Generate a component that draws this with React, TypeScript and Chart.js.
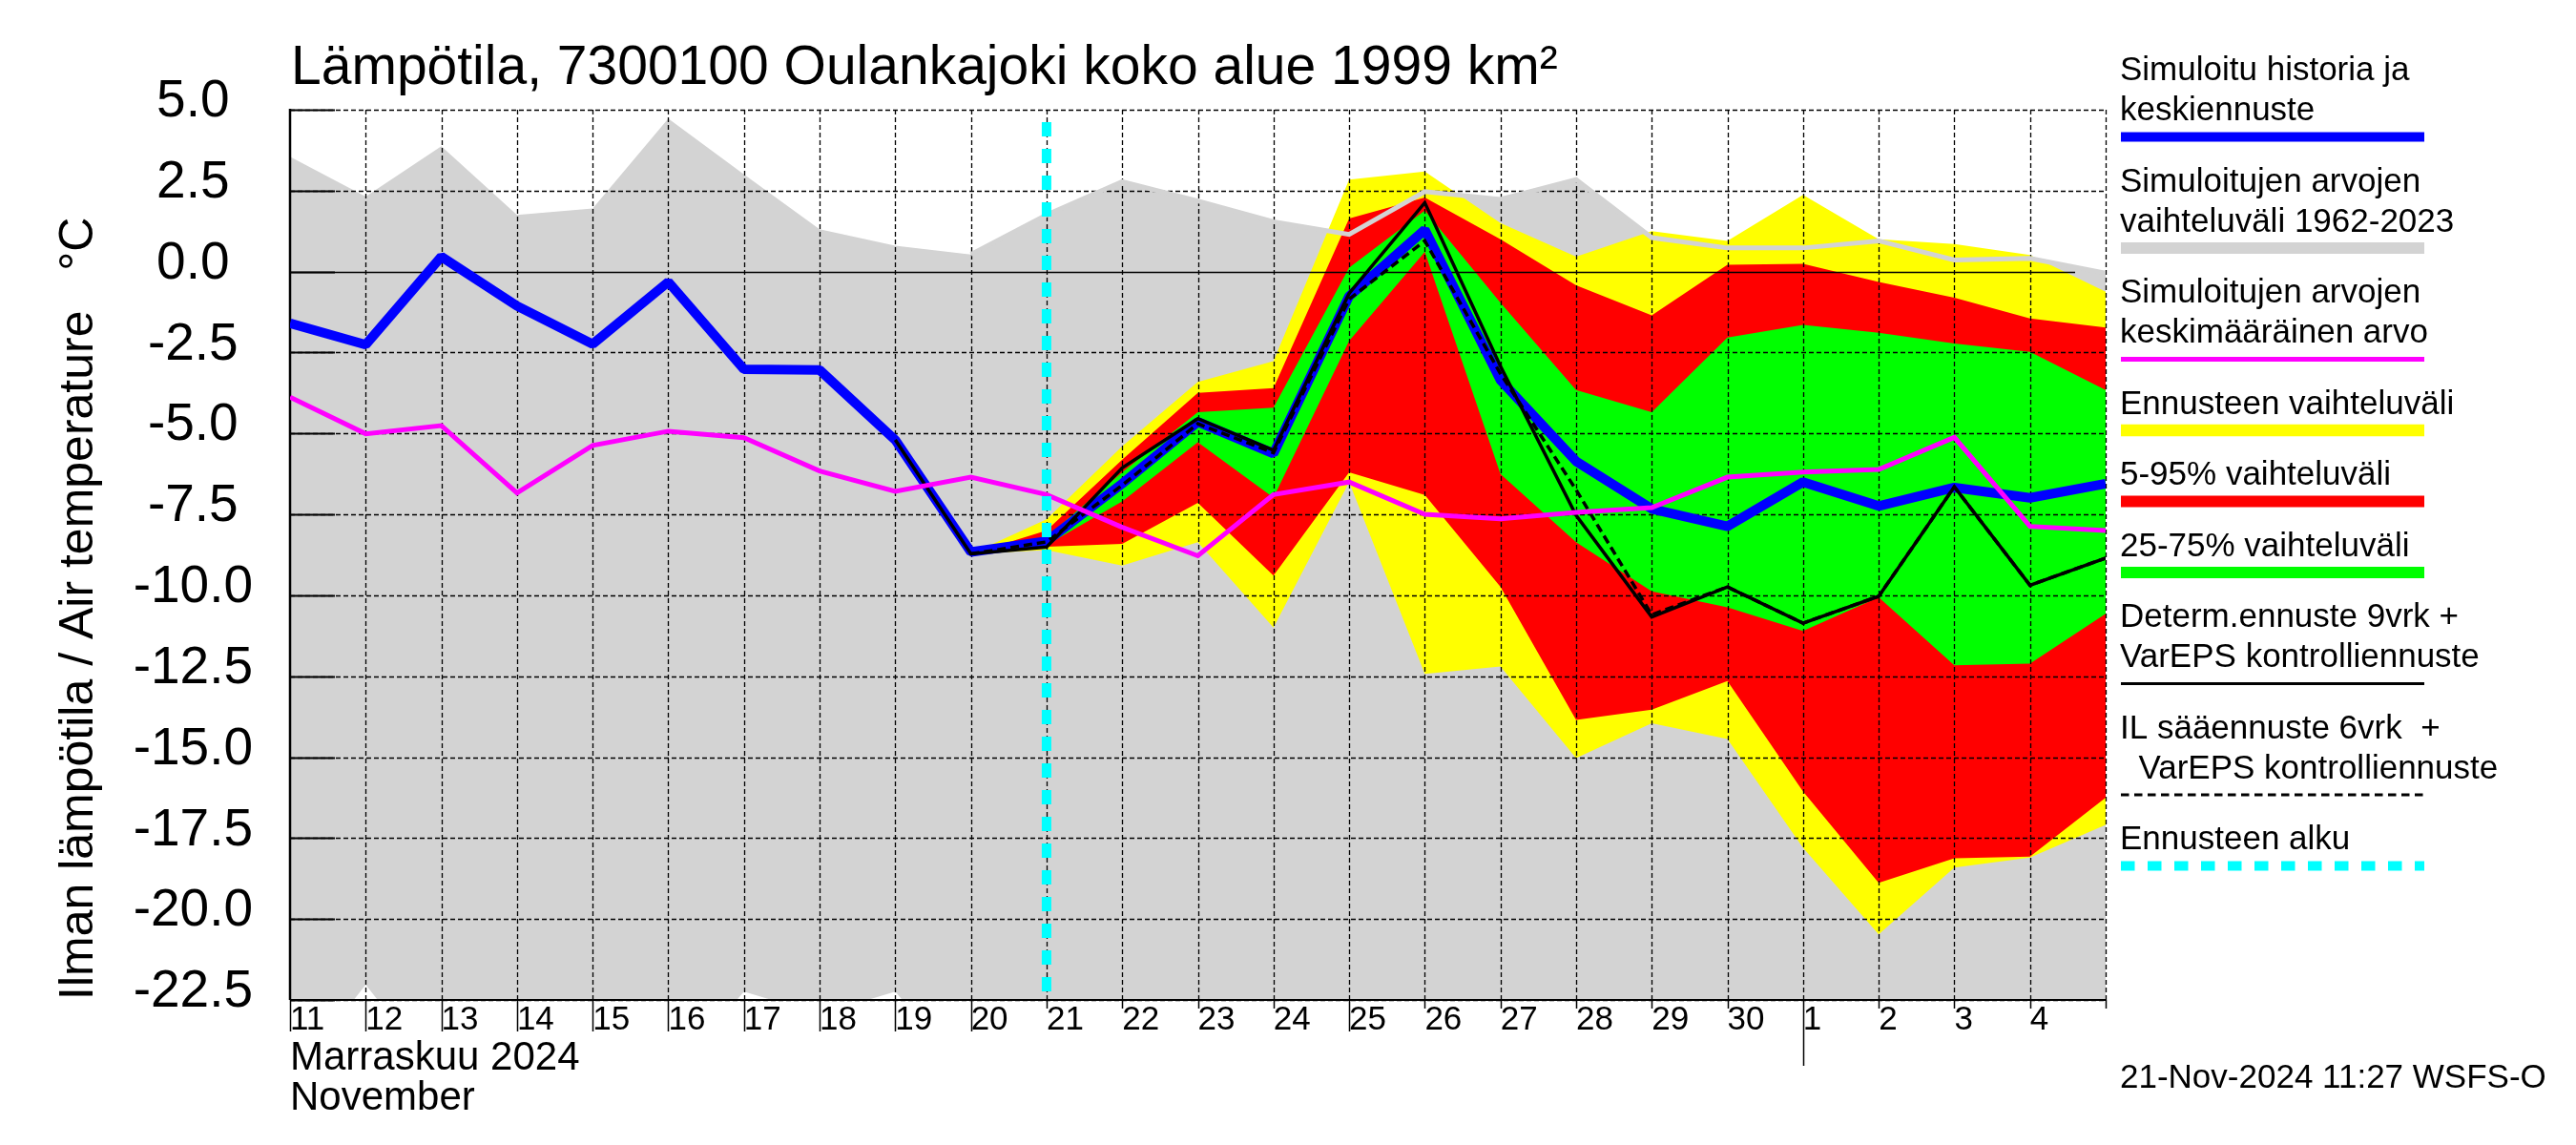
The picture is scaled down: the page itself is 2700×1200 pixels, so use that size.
import React, { useEffect, useRef } from 'react';
import { Chart, registerables } from 'chart.js';

Chart.register(...registerables);

const FONT = '"Liberation Sans", Arial, Helvetica, sans-serif';

// ---------------- data ----------------
const categories = ['11', '12', '13', '14', '15', '16', '17', '18', '19', '20', '21', '22', '23', '24', '25', '26', '27', '28', '29', '30', '1', '2', '3', '4', '5'];
const dayTickLabels = ['11', '12', '13', '14', '15', '16', '17', '18', '19', '20', '21', '22', '23', '24', '25', '26', '27', '28', '29', '30', '1', '2', '3', '4'];

const N = null;
const simMax = [3.55, 2.32, 3.87, 1.75, 1.95, 4.73, 3.0, 1.31, 0.8, 0.53, 1.75, 2.78, 2.18, 1.54, 1.15, 2.47, 2.23, 2.84, 1.05, 0.73, 0.73, 0.95, 0.36, 0.41, -0.05];
const simMin = [-25, -22.03, -25, -25, -25, -25, -22.24, -22.95, -22.24, -25, -25, -25, -25, -25, -25, -25, -25, -25, -25, -25, -25, -25, -25, -25, -25];
const simMean = [-3.88, -5.01, -4.76, -6.84, -5.37, -4.93, -5.13, -6.16, -6.79, -6.35, -6.89, -7.9, -8.78, -6.89, -6.5, -7.5, -7.64, -7.44, -7.29, -6.35, -6.19, -6.11, -5.12, -7.87, -8.0];
const centralForecast = [-1.6, -2.26, 0.46, -1.06, -2.24, -0.32, -3.02, -3.04, -5.2, -8.66, -8.33, -6.55, -4.64, -5.62, -0.76, 1.29, -3.35, -5.86, -7.33, -7.87, -6.5, -7.24, -6.67, -6.99, -6.55];
const ensMax = [N, N, N, N, N, N, N, N, N, -8.72, -7.65, -5.4, -3.41, -2.77, 2.84, 3.09, 1.5, 0.46, 1.25, 0.95, 2.37, 1.0, 0.85, 0.51, -0.62];
const ensMin = [N, N, N, N, N, N, N, N, N, -8.72, -8.6, -9.08, -8.36, -11.0, -6.5, -12.43, -12.2, -15.03, -13.95, -14.44, -17.8, -20.47, -18.41, -18.1, -17.09];
const p95 = [N, N, N, N, N, N, N, N, N, -8.72, -8.0, -5.81, -3.75, -3.6, 1.64, 2.29, 1.0, -0.42, -1.35, 0.21, 0.24, -0.32, -0.81, -1.45, -1.73];
const p05 = [N, N, N, N, N, N, N, N, N, -8.72, -8.5, -8.41, -7.14, -9.39, -6.2, -6.9, -9.74, -13.85, -13.53, -12.65, -16.06, -18.88, -18.12, -18.07, -16.25];
const p75 = [N, N, N, N, N, N, N, N, N, -8.72, -8.2, -6.2, -4.34, -4.2, 0.12, 1.88, -0.96, -3.66, -4.34, -2.04, -1.65, -1.89, -2.22, -2.48, -3.66];
const p25 = [N, N, N, N, N, N, N, N, N, -8.72, -8.45, -7.1, -5.27, -6.98, -2.14, 0.61, -6.25, -8.36, -9.88, -10.37, -11.1, -10.06, -12.16, -12.11, -10.57];
const determ = [N, N, N, N, N, N, N, N, -5.2, -8.72, -8.51, -6.06, -4.54, -5.52, -0.67, 2.13, -2.92, -7.53, -10.67, -9.74, -10.86, -10.03, -6.65, -9.69, -8.85];
const ilForecast = [N, N, N, N, N, N, N, N, N, -8.72, -8.35, -6.6, -4.7, -5.6, -0.85, 0.95, -3.15, -6.74, -10.6, -9.74, -10.86, -10.03, -6.65, -9.69, -8.85];
const forecastStartLabel = '21';
const forecastStartIndex = 9;
const forecastLineTop = 4.62;

const titleText = 'Lämpötila, 7300100 Oulankajoki koko alue 1999 km²';
const yTitle = 'Ilman lämpötila / Air temperature   °C';
const monthLabels = ['Marraskuu 2024', 'November'];
const stampText = '21-Nov-2024 11:27 WSFS-O';
const longTickIdx = [0, 1, 2, 3, 4, 5, 6, 7, 8, 9, 14];
const monthStartIdx = 20;

const legendLabels = [
  ['Simuloitu historia ja', 'keskiennuste'],
  ['Simuloitujen arvojen', 'vaihteluväli 1962-2023'],
  ['Simuloitujen arvojen', 'keskimääräinen arvo'],
  ['Ennusteen vaihteluväli'],
  ['5-95% vaihteluväli'],
  ['25-75% vaihteluväli'],
  ['Determ.ennuste 9vrk +', 'VarEPS kontrolliennuste'],
  ['IL sääennuste 6vrk  +', '  VarEPS kontrolliennuste'],
  ['Ennusteen alku'],
];

// ---------------- styles ----------------
const C = {
  grey: '#d3d3d3', yellow: '#ffff00', red: '#ff0000', green: '#00ff00',
  blue: '#0000ff', magenta: '#ff00ff', black: '#000000', cyan: '#00ffff',
};
const legendStyles = [
  { color: C.blue, width: 10, dash: [] as number[] },
  { color: C.grey, width: 12, dash: [] },
  { color: C.magenta, width: 5, dash: [] },
  { color: C.yellow, width: 12.5, dash: [] },
  { color: C.red, width: 12, dash: [] },
  { color: C.green, width: 12, dash: [] },
  { color: C.black, width: 3, dash: [] },
  { color: C.black, width: 3, dash: [8.5, 5.5] },
  { color: C.cyan, width: 10, dash: [14.5, 13.5] },
];

function line(ctx: CanvasRenderingContext2D, x1: number, y1: number, x2: number, y2: number) {
  ctx.beginPath();
  ctx.moveTo(x1, y1);
  ctx.lineTo(x2, y2);
  ctx.stroke();
}

const decorPlugin = {
  id: 'decor',
  afterDatasetDraw(chart: any, args: any) {
    const ds = chart.data.datasets[args.index];
    if (ds.label !== 'p75') return;
    const { ctx, chartArea: a, scales } = chart;
    const xs = scales.x;
    const ys = scales.y;
    ctx.save();
    ctx.strokeStyle = '#000';
    ctx.lineWidth = 1.3;
    ctx.setLineDash([5, 3]);
    for (let i = 1; i < categories.length; i++) {
      const x = Math.round(xs.getPixelForValue(i)) + 0.5;
      line(ctx, x, a.top, x, a.bottom);
    }
    ys.ticks.forEach((t: any) => {
      if (t.value === 0) return;
      const y = Math.round(ys.getPixelForValue(t.value)) + 0.5;
      line(ctx, a.left, y, a.right, y);
    });
    ctx.setLineDash([]);
    const y0 = Math.round(ys.getPixelForValue(0)) + 0.5;
    ctx.lineWidth = 1.6;
    line(ctx, a.left, y0, a.right - 32, y0);
    ctx.lineWidth = 2;
    ys.ticks.forEach((t: any) => {
      const y = Math.round(ys.getPixelForValue(t.value)) + 0.5;
      line(ctx, a.left, y, a.left + 47, y);
    });
    ctx.lineWidth = 2.5;
    line(ctx, a.left, a.top - 1, a.left, a.bottom);
    ctx.lineWidth = 1.8;
    line(ctx, a.left, a.bottom, a.right, a.bottom);
    ctx.restore();
  },
  afterDraw(chart: any) {
    const { ctx, chartArea: a, scales } = chart;
    const xs = scales.x;
    ctx.save();
    // x tick marks below the axis
    ctx.strokeStyle = '#000';
    ctx.lineWidth = 1.5;
    for (let i = 0; i < categories.length; i++) {
      const x = Math.round(xs.getPixelForValue(i)) + 0.5;
      let len = 9;
      if (longTickIdx.includes(i)) len = 33;
      if (i === monthStartIdx) len = 69;
      line(ctx, x, a.bottom, x, a.bottom + len);
    }
    ctx.fillStyle = '#000';
    ctx.textAlign = 'left';
    ctx.textBaseline = 'alphabetic';
    // title
    ctx.font = `57px ${FONT}`;
    ctx.fillText(titleText, a.left + 1, 88);
    // month labels
    ctx.font = `42px ${FONT}`;
    ctx.fillText(monthLabels[0], a.left, 1121);
    ctx.fillText(monthLabels[1], a.left, 1163);
    // legend
    const lx = 2222;
    const lineX1 = 2223;
    const lineX2 = 2541;
    let base = 84;
    ctx.font = `35px ${FONT}`;
    legendLabels.forEach((lines, k) => {
      lines.forEach((txt, j) => {
        ctx.fillText(txt, lx, base + j * 42);
      });
      const lastBase = base + (lines.length - 1) * 42;
      const barY = lastBase + 17.5;
      const st = legendStyles[k];
      ctx.strokeStyle = st.color;
      ctx.lineWidth = st.width;
      ctx.lineCap = 'butt';
      ctx.setLineDash(st.dash);
      line(ctx, lineX1, barY, lineX2, barY);
      ctx.setLineDash([]);
      base = barY + 57;
    });
    ctx.fillStyle = '#000';
    ctx.fillText(stampText, lx, 1140);
    ctx.restore();
  },
};

function mk(data: (number | null)[]) {
  return data;
}

export default function App() {
  const ref = useRef<HTMLCanvasElement>(null);
  useEffect(() => {
    if (!ref.current) return;
    const noPts = { pointRadius: 0, pointHoverRadius: 0, tension: 0, clip: 0 };
    const greyLine = simMax.map((v, i) => (i >= forecastStartIndex ? v : null));
    const datasets: any[] = [
      { label: 'cyan', data: [{ x: forecastStartLabel, y: forecastLineTop }, { x: forecastStartLabel, y: -22.5 }], borderColor: C.cyan, borderWidth: 10, borderDash: [15, 13], borderCapStyle: 'butt', fill: false, order: 0, ...noPts },
      { label: 'magenta', data: mk(simMean), borderColor: C.magenta, borderWidth: 5, fill: false, order: 1, ...noPts },
      { label: 'determ', data: mk(determ), borderColor: C.black, borderWidth: 3.5, fill: false, order: 2, ...noPts },
      { label: 'il', data: mk(ilForecast), borderColor: C.black, borderWidth: 3.5, borderDash: [9, 5], fill: false, order: 3, ...noPts },
      { label: 'blue', data: mk(centralForecast), borderColor: C.blue, borderWidth: 10, borderJoinStyle: 'bevel', fill: false, order: 4, ...noPts },
      { label: 'greyLine', data: greyLine, borderColor: C.grey, borderWidth: 5, fill: false, order: 5, ...noPts },
      { label: 'p75', data: mk(p75), borderWidth: 0, borderColor: 'rgba(0,0,0,0)', backgroundColor: C.green, fill: 7, order: 6, ...noPts },
      { label: 'p25', data: mk(p25), borderWidth: 0, borderColor: 'rgba(0,0,0,0)', fill: false, order: 7, ...noPts },
      { label: 'p95', data: mk(p95), borderWidth: 0, borderColor: 'rgba(0,0,0,0)', backgroundColor: C.red, fill: 9, order: 8, ...noPts },
      { label: 'p05', data: mk(p05), borderWidth: 0, borderColor: 'rgba(0,0,0,0)', fill: false, order: 9, ...noPts },
      { label: 'ensMax', data: mk(ensMax), borderWidth: 0, borderColor: 'rgba(0,0,0,0)', backgroundColor: C.yellow, fill: 11, order: 10, ...noPts },
      { label: 'ensMin', data: mk(ensMin), borderWidth: 0, borderColor: 'rgba(0,0,0,0)', fill: false, order: 11, ...noPts },
      { label: 'simMax', data: mk(simMax), borderWidth: 0, borderColor: 'rgba(0,0,0,0)', backgroundColor: C.grey, fill: 13, order: 12, ...noPts },
      { label: 'simMin', data: mk(simMin), borderWidth: 0, borderColor: 'rgba(0,0,0,0)', fill: false, order: 13, ...noPts },
    ];
    const chart = new Chart(ref.current, {
      type: 'line',
      data: { labels: categories, datasets },
      options: {
        animation: false,
        responsive: false,
        devicePixelRatio: 1,
        events: [],
        layout: { padding: { left: 53, right: 493, top: 115, bottom: 92 } },
        plugins: {
          legend: { display: false },
          title: { display: false },
          tooltip: { enabled: false },
          filler: { propagate: false },
        },
        scales: {
          x: {
            type: 'category',
            offset: false,
            grid: { display: false, drawTicks: false },
            border: { display: false },
            ticks: {
              autoSkip: false,
              maxRotation: 0,
              minRotation: 0,
              align: 'start',
              padding: 0,
              labelOffset: 0,
              color: '#000',
              font: { family: FONT, size: 35 },
              callback: (_v: any, i: number) => (i < dayTickLabels.length ? dayTickLabels[i] : ''),
            },
            afterFit: (s: any) => { s.height = 60; },
          },
          y: {
            type: 'linear',
            min: -22.5,
            max: 5,
            grid: { display: false, drawTicks: false },
            border: { display: false },
            ticks: {
              stepSize: 2.5,
              maxTicksLimit: 12,
              crossAlign: 'center',
              padding: 39,
              labelOffset: -8,
              color: '#000',
              font: { family: FONT, size: 55 },
              callback: (v: any) => Number(v).toFixed(1),
            },
            title: { display: true, text: yTitle, align: 'start', color: '#000', padding: 0, font: { family: FONT, size: 50 } },
            afterFit: (s: any) => { s.width = 251; },
          },
        },
      } as any,
      plugins: [decorPlugin],
    });
    return () => chart.destroy();
  }, []);
  return (
    <div style={{ position: 'fixed', left: 0, top: 0, width: 2700, height: 1200, background: '#fff' }}>
      <canvas ref={ref} width={2700} height={1200} style={{ width: 2700, height: 1200, display: 'block' }} />
    </div>
  );
}
